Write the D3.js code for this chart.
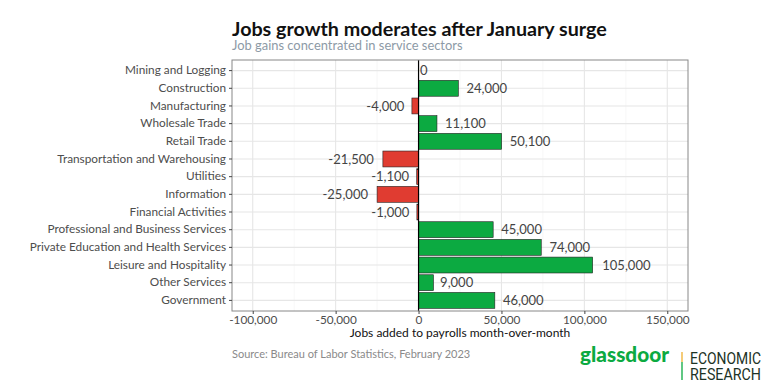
<!DOCTYPE html>
<html><head><meta charset="utf-8">
<script src="https://cdn.jsdelivr.net/npm/d3@7"></script>
<style>
html,body{margin:0;padding:0;background:#fff;}
svg{display:block;font-family:Lato, "Noto Sans", sans-serif;}
</style></head>
<body><svg id="chart" width="780" height="390"></svg>
<script>
const categories = ["Mining and Logging","Construction","Manufacturing","Wholesale Trade","Retail Trade","Transportation and Warehousing","Utilities","Information","Financial Activities","Professional and Business Services","Private Education and Health Services","Leisure and Hospitality","Other Services","Government"];
const values = [0,24000,-4000,11100,50100,-21500,-1100,-25000,-1000,45000,74000,105000,9000,46000];
const xTicks = [-100000,-50000,0,50000,100000,150000];
const xMinorTicks = [-75000,-25000,25000,75000,125000];
const titleText = "Jobs growth moderates after January surge";
const subtitleText = "Job gains concentrated in service sectors";
const xAxisTitle = "Jobs added to payrolls month-over-month";
const sourceText = "Source: Bureau of Labor Statistics, February 2023";

const svg = d3.select("#chart");
const P = {left:232, right:688, top:60, bottom:311};
const fmt0 = d3.format(",");
const fmt = d => fmt0(d).replace("\u2212","-");

const x = d3.scaleLinear().domain([-112500,162500]).range([P.left,P.right]);
const y = d3.scaleBand().domain(categories).range([P.top,P.bottom]).paddingOuter(0.1).paddingInner(0);
const bw = y.bandwidth();
const yc = c => y(c) + bw/2;

svg.append("rect").attr("x",P.left).attr("y",P.top).attr("width",P.right-P.left).attr("height",P.bottom-P.top).attr("fill","#fff");

// grid
const g = svg.append("g");
g.selectAll(".minor").data(xMinorTicks).join("line")
  .attr("x1",d=>x(d)).attr("x2",d=>x(d)).attr("y1",P.top).attr("y2",P.bottom)
  .attr("stroke","#f2f2f2").attr("stroke-width",0.6);
g.selectAll(".major").data(xTicks).join("line")
  .attr("x1",d=>x(d)).attr("x2",d=>x(d)).attr("y1",P.top).attr("y2",P.bottom)
  .attr("stroke","#e6e6e6").attr("stroke-width",1.1);
g.selectAll(".hgrid").data(categories).join("line")
  .attr("x1",P.left).attr("x2",P.right).attr("y1",d=>yc(d)).attr("y2",d=>yc(d))
  .attr("stroke","#e6e6e6").attr("stroke-width",1.1);

// bars
const barH = bw*0.9;
svg.append("g").selectAll("rect").data(values).join("rect")
  .attr("x",d=>Math.min(x(0),x(d)))
  .attr("width",d=>Math.abs(x(d)-x(0)))
  .attr("y",(d,i)=>yc(categories[i])-barH/2)
  .attr("height",barH)
  .attr("fill",d=>d>=0?"#0caa41":"#e03c31")
  .attr("stroke","#222").attr("stroke-width",0.6);

// zero line
svg.append("line").attr("x1",x(0)).attr("x2",x(0)).attr("y1",P.top).attr("y2",P.bottom)
  .attr("stroke","#000").attr("stroke-width",1.2);

// value labels
const lab = svg.append("g").selectAll("text").data(values).join("text")
  .attr("y",(d,i)=>yc(categories[i]))
  .attr("dy","0.35em")
  .attr("font-size",13).attr("fill","#444")
  .text(d=>fmt(d));
lab.each(function(d){
  const w = this.getComputedTextLength();
  const s = d3.select(this);
  if(d>=0){ s.attr("x",x(d)+0.2*w).attr("text-anchor","start"); }
  else { s.attr("x",x(d)-0.2*w).attr("text-anchor","end"); }
});

// panel border
svg.append("rect").attr("x",P.left).attr("y",P.top).attr("width",P.right-P.left).attr("height",P.bottom-P.top)
  .attr("fill","none").attr("stroke","#888").attr("stroke-width",1);

// axes
const xAxis = d3.axisBottom(x).tickValues(xTicks).tickFormat(fmt).tickSize(3).tickPadding(2);
const xa = svg.append("g").attr("transform",`translate(0,${P.bottom})`).call(xAxis);
xa.select(".domain").remove();
xa.selectAll(".tick line").attr("stroke","#444");
xa.selectAll(".tick text").attr("font-size",11.8).attr("fill","#4d4d4d").attr("font-family","Lato");

const yAxis = d3.axisLeft(y).tickSize(3).tickPadding(3);
const ya = svg.append("g").attr("transform",`translate(${P.left},0)`).call(yAxis);
ya.select(".domain").remove();
ya.selectAll(".tick line").attr("stroke","#444");
ya.selectAll(".tick text").attr("font-size",11.8).attr("fill","#4d4d4d").attr("font-family","Lato");

// axis title
svg.append("text").attr("x",(P.left+P.right)/2).attr("y",337).attr("text-anchor","middle")
  .attr("font-size",12).attr("fill","#111").text(xAxisTitle);

// title & subtitle
svg.append("text").attr("x",232).attr("y",36).attr("font-size",19.7).attr("font-weight","bold").attr("fill","#111").text(titleText);
svg.append("text").attr("x",232).attr("y",50).attr("font-size",12.9).attr("fill","#8d9aa6").text(subtitleText);

// source
svg.append("text").attr("x",232).attr("y",358).attr("font-size",11).attr("fill","#8a8a8a").text(sourceText);

// logo
svg.append("text").attr("x",580).attr("y",362).attr("font-size",20).attr("font-weight",900)
  .attr("fill","#0caa41").attr("textLength",89).attr("lengthAdjust","spacingAndGlyphs").text("glassdoor");
svg.append("line").attr("x1",682).attr("x2",682).attr("y1",352).attr("y2",362).attr("stroke","#f0b030").attr("stroke-width",1.3);
svg.append("line").attr("x1",682).attr("x2",682).attr("y1",362).attr("y2",380).attr("stroke","#0caa41").attr("stroke-width",1.3);
svg.append("text").attr("x",690).attr("y",364).attr("font-size",16.5).attr("font-family","Roboto")
  .attr("fill","#1d3326").attr("textLength",71).attr("lengthAdjust","spacingAndGlyphs").text("ECONOMIC");
svg.append("text").attr("x",690).attr("y",380).attr("font-size",16.5).attr("font-family","Roboto")
  .attr("fill","#1d3326").attr("textLength",71).attr("lengthAdjust","spacingAndGlyphs").text("RESEARCH");
</script></body></html>
